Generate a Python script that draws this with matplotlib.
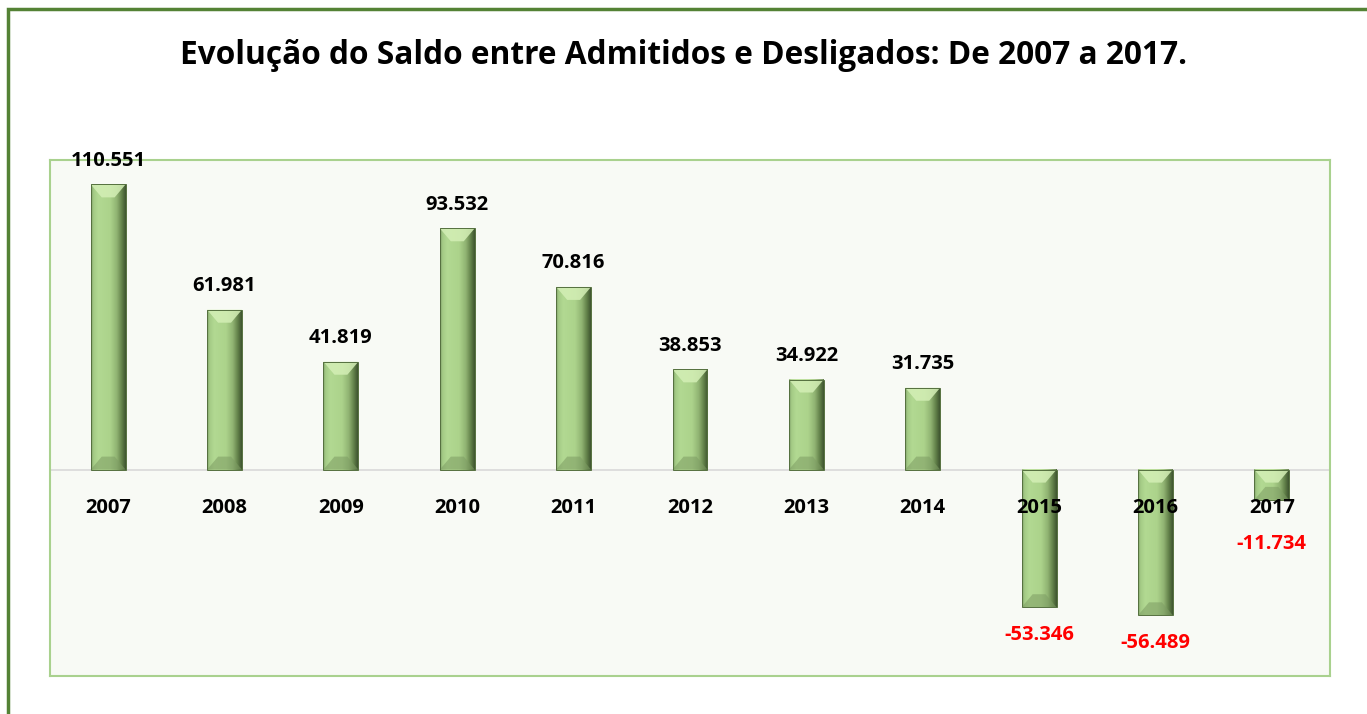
import numpy as np
import matplotlib.pyplot as plt
from matplotlib.colors import LinearSegmentedColormap
from matplotlib.patches import Rectangle, Polygon

anos = ['2007', '2008', '2009', '2010', '2011', '2012', '2013', '2014', '2015', '2016', '2017']
saldo = [110551, 61981, 41819, 93532, 70816, 38853, 34922, 31735, -53346, -56489, -11734]

titulo = 'Evolução do Saldo entre Admitidos e Desligados: De 2007 a 2017.'

W, H = 1367, 714
fig = plt.figure(figsize=(W / 100, H / 100), dpi=100)
plt.rcParams['font.family'] = ['Open Sans', 'DejaVu Sans']

# outer chart border (runs off the right/bottom edge like the screenshot)
fig.patches.append(Rectangle((8 / W, -0.05), 1.1, 1 - 9 / H + 0.05, transform=fig.transFigure,
                             fill=False, edgecolor='#548235', linewidth=2.5))

fig.text(0.5, 1 - 55 / H, titulo, ha='center', va='center', fontsize=22.8, fontweight='bold')

ax = fig.add_axes([50 / W, 1 - 676 / H, 1280 / W, 516 / H])
ax.set_facecolor('#f8faf5')
for s in ax.spines.values():
    s.set_color('#a9d18e')
    s.set_linewidth(1.5)
ax.set_xticks([])
ax.set_yticks([])

ymin, ymax = -80000, 120000
ax.set_xlim(-0.5, len(anos) - 0.5)
ax.set_ylim(ymin, ymax)
ax.axhline(0, color='#d9d9d9', linewidth=1.2, zorder=1)

grad_cmap = LinearSegmentedColormap.from_list('bevel', [
    (0.0, '#7f9d66'), (0.06, '#a3ca85'), (0.2, '#b2d992'), (0.55, '#acd38b'),
    (0.75, '#8fb271'), (0.9, '#5f7d47'), (1.0, '#3f5530')])
grad = np.linspace(0, 1, 64).reshape(1, -1)

w = 0.3
px_y = (ymax - ymin) / 516.0
px_x = (len(anos)) / 1280.0
bev_h = 13 * px_y
bev_w = 11 * px_x

for i, v in enumerate(saldo):
    x0, x1 = i - w / 2, i + w / 2
    y0, y1 = min(0, v), max(0, v)
    ax.imshow(grad, extent=[x0, x1, y0, y1], aspect='auto', cmap=grad_cmap,
              interpolation='bicubic', zorder=2)
    h = min(bev_h, (y1 - y0) / 2)
    ax.add_patch(Polygon([(x0, y1), (x1, y1), (x1 - bev_w, y1 - h), (x0 + bev_w, y1 - h)],
                         closed=True, facecolor='#d4efb6', edgecolor='none', alpha=0.85, zorder=3))
    ax.add_patch(Polygon([(x0, y0), (x1, y0), (x1 - bev_w, y0 + h), (x0 + bev_w, y0 + h)],
                         closed=True, facecolor='#7d9c63', edgecolor='none', alpha=0.55, zorder=3))
    ax.add_patch(Rectangle((x0, y0), w, y1 - y0, fill=False, edgecolor='#55703f',
                           linewidth=0.7, zorder=4))

    # category label just below the zero line
    ax.annotate(anos[i], (i, 0), xytext=(0, -28), textcoords='offset points',
                ha='center', va='center', fontsize=14.5, fontweight='bold', zorder=6)

    rot = f'{abs(v):,}'.replace(',', '.')
    if v >= 0:
        ax.annotate(rot, (i, v), xytext=(0, 17), textcoords='offset points',
                    ha='center', va='center', fontsize=14.5, fontweight='bold', zorder=6)
    else:
        off = -20 if v < -30000 else -32
        ax.annotate('-' + rot, (i, v), xytext=(0, off), textcoords='offset points',
                    ha='center', va='center', fontsize=14.5, fontweight='bold',
                    color='#ff0000', zorder=6)

fig.savefig('out.png', dpi=100)
